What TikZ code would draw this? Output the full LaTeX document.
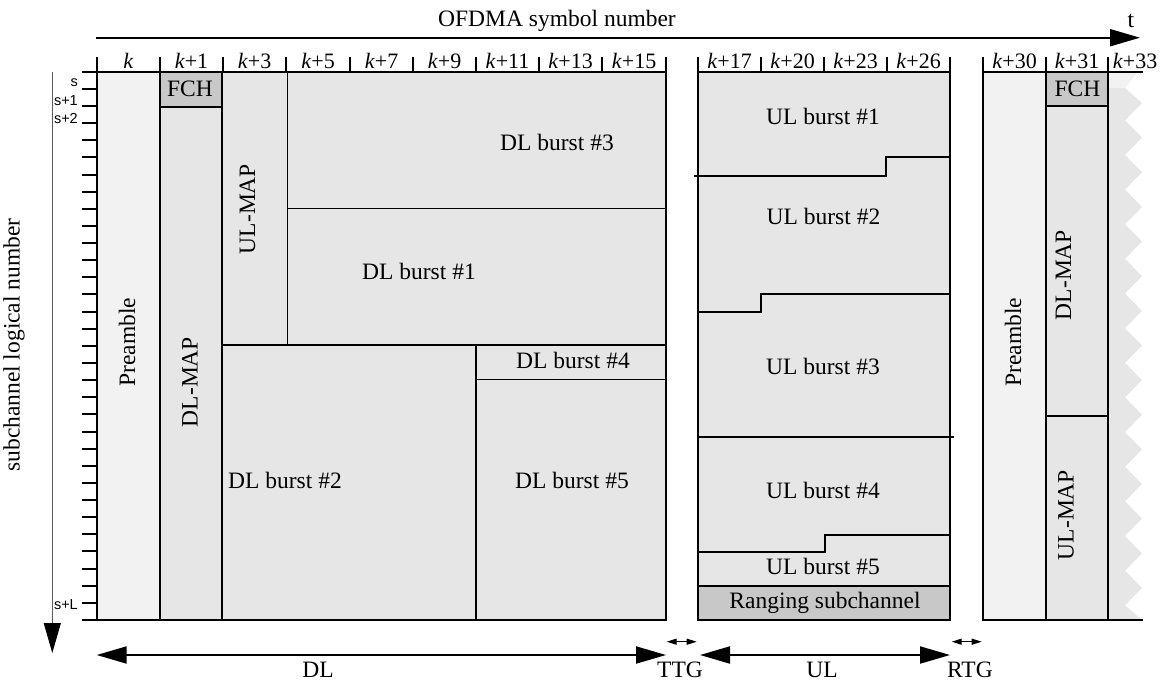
\documentclass[tikz,border=0pt]{standalone}
\usepackage{fontspec}
\setmainfont{Liberation Serif}
\newfontfamily\sansf{Liberation Sans}
\usetikzlibrary{arrows.meta}
\definecolor{prefill}{RGB}{242,242,242}
\definecolor{burstfill}{RGB}{230,230,230}
\definecolor{fchfill}{RGB}{200,200,200}
\definecolor{axisgray}{RGB}{90,90,90}
\tikzset{
  thickl/.style={line width=2pt, line cap=rect},
  thinl/.style={line width=1pt},
  lbl/.style={font=\fontsize{23.5}{27}\selectfont, inner sep=0pt, anchor=base},
  rlbl/.style={lbl, rotate=90},
  hdr/.style={font=\fontsize{22}{26}\selectfont, inner sep=0pt, anchor=base},
  slbl/.style={font=\sansf\fontsize{14.5}{17}\selectfont, inner sep=0pt, anchor=base east},
  bigarrow/.style={line width=2pt, -{Triangle[length=30pt,width=17pt]}},
  dblarrow/.style={line width=2pt, {Triangle[length=30pt,width=17pt]}-{Triangle[length=30pt,width=17pt]}},
  gaparrow/.style={line width=1.2pt, {Triangle[length=10pt,width=6pt]}-{Triangle[length=10pt,width=6pt]}},
}
\begin{document}
\begin{tikzpicture}[x=1pt,y=-1pt]
\useasboundingbox (0,0) rectangle (1165,683);
% ---------- fills ----------
\fill[prefill] (96.7,71.7) rectangle (160,620);
\fill[burstfill] (160,71.7) rectangle (666,620);
\fill[fchfill] (160,71.7) rectangle (222,106.7);
\fill[burstfill] (698,71.7) rectangle (950,620);
\fill[fchfill] (698,586) rectangle (950,620);
\fill[prefill] (983,71.7) rectangle (1046,620);
\fill[burstfill] (1046,71.7) rectangle (1108,620);
\fill[fchfill] (1046,71.7) rectangle (1108,105.7);
\fill[prefill] (1108,71.7) -- (1138,71.7) -- (1125,88) -- (1108,88) -- cycle;
\fill[burstfill] (1108,88) -- (1125,88)
  \foreach \n in {0,...,14}{ -- (1142,{103+34.64*\n}) -- (1125,{120.3+34.64*\n}) }
  -- (1142,620) -- (1108,620) -- cycle;
% ---------- DL frame ----------
\draw[thickl] (96.7,58) -- (96.7,620);
\draw[thickl] (666,58) -- (666,620);
\draw[thickl] (83,71.7) -- (666,71.7);
\draw[thickl] (83,620) -- (666,620);
\foreach \x in {160,223,286,350,413,476,539,602}{\draw[thickl] (\x,58) -- (\x,71.7);}
\foreach \i in {1,...,31}{\draw[thickl] (83,{71.7+17.135*\i}) -- (96.7,{71.7+17.135*\i});}
\draw[thickl] (160,71.7) -- (160,620);
\draw[thickl] (222,71.7) -- (222,620);
\draw[thickl] (160,106.7) -- (222,106.7);
\draw[thickl] (222,345) -- (666,345);
\draw[thickl] (476,345) -- (476,620);
\draw[thinl] (287,71.7) -- (287,345);
\draw[thinl] (287,208) -- (666,208);
\draw[thinl] (476,379) -- (666,379);
% ---------- UL frame ----------
\draw[thickl] (698,58) -- (698,620);
\draw[thickl] (950,58) -- (950,620);
\draw[thickl] (698,71.7) -- (950,71.7);
\draw[thickl] (698,620) -- (950,620);
\foreach \x in {761,824,887}{\draw[thickl] (\x,58) -- (\x,71.7);}
\draw[thickl] (695,176) -- (886,176) -- (886,156.7) -- (950,156.7);
\draw[thickl] (698,311.7) -- (760.7,311.7) -- (760.7,294.3) -- (950,294.3);
\draw[thickl] (698,437) -- (953,437);
\draw[thickl] (698,552) -- (825,552) -- (825,535) -- (950,535);
\draw[thickl] (698,586) -- (950,586);
% ---------- right frame ----------
\draw[thickl] (983,58) -- (983,620);
\draw[thickl] (1046,58) -- (1046,620);
\draw[thickl] (1108,58) -- (1108,620);
\draw[thickl] (983,71.7) -- (1142,71.7);
\draw[thickl] (983,620) -- (1142,620);
\draw[thickl] (1046,105.7) -- (1108,105.7);
\draw[thickl] (1046,415.7) -- (1108,415.7);
% ---------- axes ----------
\coordinate (tstart) at (96,37.7);
\coordinate (tend) at (1140,37.7);
\draw[bigarrow] (tstart) -- (tend);
\node[lbl] (ofdma) at (557,26) {OFDMA symbol number};
\node[lbl] (tlab) at (1131,27) {t};
\coordinate (sstart) at (52.3,71.7);
\coordinate (send) at (52.3,653);
\draw[line width=1pt, draw=axisgray, -{Triangle[length=30pt,width=17pt,color=black]}] (sstart) -- (send);
\node[lbl, rotate=90, anchor=center] (sublab) at (14,345) {subchannel logical number};
\node[slbl] (ls) at (78,86) {s};
\node[slbl] (ls1) at (78,105) {s+1};
\node[slbl] (ls2) at (78,123.3) {s+2};
\node[slbl] (lsL) at (78,609.3) {s+L};
% ---------- header labels ----------
\node[hdr] (h0) at (128.3,68) {\textit{k}};
\node[hdr] (h1) at (191.5,68) {\textit{k}+1};
\node[hdr] (h3) at (254.5,68) {\textit{k}+3};
\node[hdr] (h5) at (318,68) {\textit{k}+5};
\node[hdr] (h7) at (381.5,68) {\textit{k}+7};
\node[hdr] (h9) at (444.5,68) {\textit{k}+9};
\node[hdr] (h11) at (507.5,68) {\textit{k}+11};
\node[hdr] (h13) at (570.5,68) {\textit{k}+13};
\node[hdr] (h15) at (634,68) {\textit{k}+15};
\node[hdr] (h17) at (729.5,68) {\textit{k}+17};
\node[hdr] (h20) at (792.5,68) {\textit{k}+20};
\node[hdr] (h23) at (855.5,68) {\textit{k}+23};
\node[hdr] (h26) at (918.5,68) {\textit{k}+26};
\node[hdr] (h30) at (1014.5,68) {\textit{k}+30};
\node[hdr] (h31) at (1077,68) {\textit{k}+31};
\node[hdr] (h33) at (1135,68) {\textit{k}+33};
% ---------- DL labels ----------
\node[rlbl] (pre1) at (135,342) {Preamble};
\node[lbl] (fch1) at (190,96.5) {FCH};
\node[rlbl] (dlmap1) at (197.5,382) {DL-MAP};
\node[rlbl] (ulmap1) at (255,209) {UL-MAP};
\node[lbl] (dl3) at (557,150.5) {DL burst \#3};
\node[lbl] (dl1) at (419,279.5) {DL burst \#1};
\node[lbl] (dl2) at (285,488.5) {DL burst \#2};
\node[lbl] (dl4) at (573,368) {DL burst \#4};
\node[lbl] (dl5) at (572,488.5) {DL burst \#5};
% ---------- UL labels ----------
\node[lbl] (ul1) at (823,124.5) {UL burst \#1};
\node[lbl] (ul2) at (823.5,224.5) {UL burst \#2};
\node[lbl] (ul3) at (823,374.5) {UL burst \#3};
\node[lbl] (ul4) at (823,498.5) {UL burst \#4};
\node[lbl] (ul5) at (823,574.5) {UL burst \#5};
\node[lbl] (rng) at (825,608) {Ranging subchannel};
% ---------- right labels ----------
\node[rlbl] (pre2) at (1021,342) {Preamble};
\node[lbl] (fch2) at (1077.5,96.5) {FCH};
\node[rlbl] (dlmap2) at (1071,275) {DL-MAP};
\node[rlbl] (ulmap2) at (1073.5,515) {UL-MAP};
% ---------- bottom arrows ----------
\coordinate (dla) at (96.7,655);
\coordinate (dlb) at (666,655);
\coordinate (ttga) at (666.7,641.7);
\coordinate (ttgb) at (696.7,641.7);
\coordinate (ula) at (700,655);
\coordinate (ulb) at (950,655);
\coordinate (rtga) at (951.7,641.7);
\coordinate (rtgb) at (981.7,641.7);
\draw[dblarrow] (dla) -- (dlb);
\draw[gaparrow] (ttga) -- (ttgb);
\draw[dblarrow] (ula) -- (ulb);
\draw[gaparrow] (rtga) -- (rtgb);
\node[lbl] (dllab) at (318,677.5) {DL};
\node[lbl] (ttglab) at (680,677.5) {TTG};
\node[lbl] (ullab) at (822,677.5) {UL};
\node[lbl] (rtglab) at (970,677.5) {RTG};
\end{tikzpicture}
\end{document}
